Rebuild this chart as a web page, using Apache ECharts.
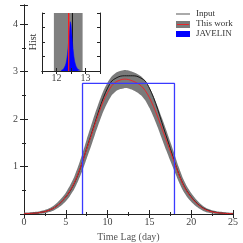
<!DOCTYPE html>
<html><head><meta charset="utf-8">
<script src="https://cdn.jsdelivr.net/npm/echarts@6/dist/echarts.min.js"></script>
<style>html,body{margin:0;padding:0;background:#fff}#c{width:243px;height:243px}</style>
</head><body><div id="c"></div>
<script>
// ---- data ----
const lags = [0,0.5,1,1.5,2,2.5,3,3.5,4,4.5,5,5.5,6,6.5,7,7.5,8,8.5,9,9.5,10,10.5,11,11.5,12,12.5,13,13.5,14,14.5,15,15.5,16,16.5,17,17.5,18,18.5,19,19.5,20,20.5,21,21.5,22,22.5,23,23.5,24,24.5,25];
const inputTF = [0.007,0.01,0.015,0.02,0.035,0.05,0.08,0.12,0.18,0.26,0.36,0.48,0.64,0.85,1.1,1.38,1.65,1.92,2.2,2.45,2.65,2.8,2.86,2.9,2.91,2.91,2.91,2.9,2.86,2.8,2.65,2.45,2.2,1.92,1.65,1.38,1.1,0.85,0.64,0.48,0.36,0.26,0.18,0.12,0.08,0.05,0.035,0.02,0.015,0.01,0.007];
const thisWork = [0.007,0.01,0.015,0.02,0.035,0.05,0.08,0.12,0.18,0.26,0.36,0.49,0.65,0.86,1.1,1.37,1.63,1.9,2.15,2.38,2.56,2.7,2.78,2.82,2.84,2.83,2.8,2.76,2.7,2.6,2.45,2.26,2.04,1.8,1.56,1.32,1.08,0.84,0.63,0.47,0.35,0.25,0.17,0.11,0.07,0.045,0.03,0.02,0.013,0.009,0.006];
const bandLow = [0,0,0,0,0.005,0.015,0.04,0.07,0.12,0.185,0.27,0.38,0.52,0.705,0.92,1.17,1.415,1.68,1.93,2.165,2.35,2.5,2.585,2.63,2.65,2.64,2.61,2.565,2.5,2.395,2.235,2.04,1.82,1.58,1.345,1.12,0.9,0.685,0.5,0.36,0.26,0.175,0.11,0.06,0.03,0.01,0,0,0,0,0];
const bandHigh = [0.027,0.032,0.037,0.045,0.065,0.085,0.12,0.17,0.24,0.335,0.45,0.6,0.78,1.015,1.28,1.57,1.845,2.12,2.37,2.595,2.77,2.9,2.975,3.01,3.03,3.02,2.99,2.955,2.9,2.805,2.665,2.48,2.26,2.02,1.775,1.52,1.26,0.995,0.76,0.58,0.44,0.325,0.23,0.16,0.11,0.08,0.06,0.045,0.035,0.029,0.026];
const javelinLag = [7, 18];
const javelinAmp = 2.75;
// inset
const histBins = [12.1625,12.1875,12.2125,12.2375,12.2625,12.2875,12.3125,12.3375,12.3625,12.3875,12.4125,12.4375,12.4625,12.4875,12.5125,12.5375,12.5625,12.5875,12.6125,12.6375,12.6625,12.6875,12.7125,12.7375,12.7625,12.7875,12.8125,12.8375];
const histVals = [0.01,0.015,0.02,0.03,0.04,0.06,0.09,0.13,0.19,0.28,0.4,0.55,0.7,0.85,0.8,0.65,0.5,0.36,0.25,0.17,0.12,0.08,0.05,0.035,0.025,0.015,0.01,0.005];
const lagBand = [11.91, 12.9];
const lagThisWork = 12.42;
const lagInput = 12.55;
const legendNames = ['Input', 'This work', 'JAVELIN'];

// ---- chart ----
const font = 'Liberation Serif';
const txt = '#444';
const chart = echarts.init(document.getElementById('c'), null, {renderer: 'canvas'});
const pts = (ys) => lags.map((x, i) => [x, ys[i]]);
const axisLine = {show: true, lineStyle: {color: '#222', width: 1}};
const tick = {show: true, inside: true, length: 4, lineStyle: {color: '#222'}};
const minor = {show: true, splitNumber: 2, length: 2, lineStyle: {color: '#222'}};
const itick = {show: true, inside: true, length: 3, lineStyle: {color: '#222'}};
const lbl = {color: txt, fontFamily: font, fontSize: 10};

chart.setOption({
  animation: false,
  grid: [
    {left: 24, right: 10, top: 5, bottom: 29, outerBoundsMode: 'none', containLabel: false},
    {left: 42, top: 13, width: 58, height: 58, backgroundColor: '#fff', show: true, borderWidth: 0, z: 5, outerBoundsMode: 'none', containLabel: false}
  ],
  xAxis: [
    {gridIndex: 0, type: 'value', min: 0, max: 25, interval: 5, axisLine, axisTick: tick, minorTick: minor, splitLine: {show: false},
     axisLabel: Object.assign({margin: 3}, lbl),
     name: 'Time Lag (day)', nameLocation: 'middle', nameGap: 9, nameTextStyle: {color: '#555', fontFamily: font, fontSize: 10}},
    {gridIndex: 0, type: 'value', position: 'top', min: 0, max: 25, interval: 5, axisLine, axisTick: tick, minorTick: minor, splitLine: {show: false}, axisLabel: {show: false}},
    {gridIndex: 1, type: 'value', min: 11.5, max: 13.5, interval: 0.5, axisLine, axisTick: itick, splitLine: {show: false},
     axisLabel: Object.assign({margin: 2, formatter: v => (Math.abs(v - Math.round(v)) < 1e-6 ? String(v) : '')}, lbl), z: 9},
    {gridIndex: 1, type: 'value', position: 'top', min: 11.5, max: 13.5, interval: 0.5, axisLine, axisTick: itick, splitLine: {show: false}, axisLabel: {show: false}, z: 9}
  ],
  yAxis: [
    {gridIndex: 0, type: 'value', min: 0, max: 4.4, interval: 1, axisLine, axisTick: tick, minorTick: minor, splitLine: {show: false},
     axisLabel: Object.assign({margin: 6, showMaxLabel: false, formatter: v => (v === 0 || v > 4 ? '' : String(v))}, lbl),
     name: 'Transfer Function', nameLocation: 'middle', nameGap: 8, nameTextStyle: {color: '#555', fontFamily: font, fontSize: 10}},
    {gridIndex: 0, type: 'value', position: 'right', min: 0, max: 4.4, interval: 1, axisLine, axisTick: tick, minorTick: minor, splitLine: {show: false}, axisLabel: {show: false}},
    {gridIndex: 1, type: 'value', min: 0, max: 1, interval: 0.25, axisLine, axisTick: itick, splitLine: {show: false}, axisLabel: {show: false},
     name: 'Hist', nameLocation: 'middle', nameGap: 4, nameTextStyle: {color: '#333', fontFamily: font, fontSize: 10}, z: 9},
    {gridIndex: 1, type: 'value', position: 'right', min: 0, max: 1, interval: 0.25, axisLine, axisTick: itick, splitLine: {show: false}, axisLabel: {show: false}, z: 9}
  ],
  series: [
    {type: 'custom', xAxisIndex: 0, yAxisIndex: 0, data: [[12, 1]], silent: true, z: 1,
     renderItem: (params, api) => {
       const top = lags.map((x, i) => api.coord([x, bandHigh[i]]));
       const bot = lags.map((x, i) => api.coord([x, bandLow[i]])).reverse();
       return {type: 'polygon', shape: {points: top.concat(bot), smooth: 0.2}, style: {fill: '#7a7a7a'}};
     }},
    {type: 'line', name: legendNames[0], xAxisIndex: 0, yAxisIndex: 0, data: pts(inputTF), symbol: 'none', smooth: 0.3, lineStyle: {color: '#1a1a1a', width: 1}, z: 2},
    {type: 'line', name: legendNames[1], xAxisIndex: 0, yAxisIndex: 0, data: pts(thisWork), symbol: 'none', smooth: 0.3, lineStyle: {color: '#e8262a', width: 1}, z: 3},
    {type: 'line', name: legendNames[2], xAxisIndex: 0, yAxisIndex: 0, symbol: 'none',
     data: [[javelinLag[0], 0], [javelinLag[0], javelinAmp], [javelinLag[1], javelinAmp], [javelinLag[1], 0]],
     lineStyle: {color: '#3a3aff', width: 1.3}, z: 4},
    // inset
    {type: 'custom', xAxisIndex: 2, yAxisIndex: 2, data: [[12.4, 0.5]], silent: true, z: 6,
     renderItem: (params, api) => {
       const a = api.coord([lagBand[0], 1]);
       const b = api.coord([lagBand[1], 0]);
       return {type: 'rect', shape: {x: a[0], y: a[1], width: b[0] - a[0], height: b[1] - a[1]}, style: {fill: '#808080'}};
     }},
    {type: 'line', xAxisIndex: 2, yAxisIndex: 2, data: [[lagInput, 0], [lagInput, 1]], symbol: 'none', lineStyle: {color: '#111', width: 1}, z: 7},
    {type: 'line', xAxisIndex: 2, yAxisIndex: 2, data: histBins.map((b, i) => [b, histVals[i]]), step: 'middle', symbol: 'none', lineStyle: {color: '#0000ff', width: 0.5}, areaStyle: {color: '#0000ff', opacity: 1}, z: 8},
    {type: 'line', xAxisIndex: 2, yAxisIndex: 2, data: [[lagThisWork, 0], [lagThisWork, 1]], symbol: 'none', lineStyle: {color: '#ff1a1a', width: 1.3}, z: 9}
  ],
  graphic: [
    {type: 'line', shape: {x1: 176, y1: 14, x2: 190, y2: 14}, style: {stroke: '#aaaaaa', lineWidth: 2}},
    {type: 'text', left: 196, top: 9, style: {text: legendNames[0], font: '9px "Liberation Serif"', fill: '#333'}},
    {type: 'rect', shape: {x: 176, y: 21, width: 14, height: 7}, style: {fill: '#7a7a7a'}},
    {type: 'line', shape: {x1: 177, y1: 24.5, x2: 189, y2: 24.5}, style: {stroke: '#e8262a', lineWidth: 1}},
    {type: 'text', left: 196, top: 19.5, style: {text: legendNames[1], font: '9px "Liberation Serif"', fill: '#333'}},
    {type: 'rect', shape: {x: 176, y: 31, width: 14, height: 6}, style: {fill: '#0000ff'}},
    {type: 'text', left: 196, top: 29.5, style: {text: legendNames[2], font: '9px "Liberation Serif"', fill: '#333'}}
  ]
});
</script></body></html>
